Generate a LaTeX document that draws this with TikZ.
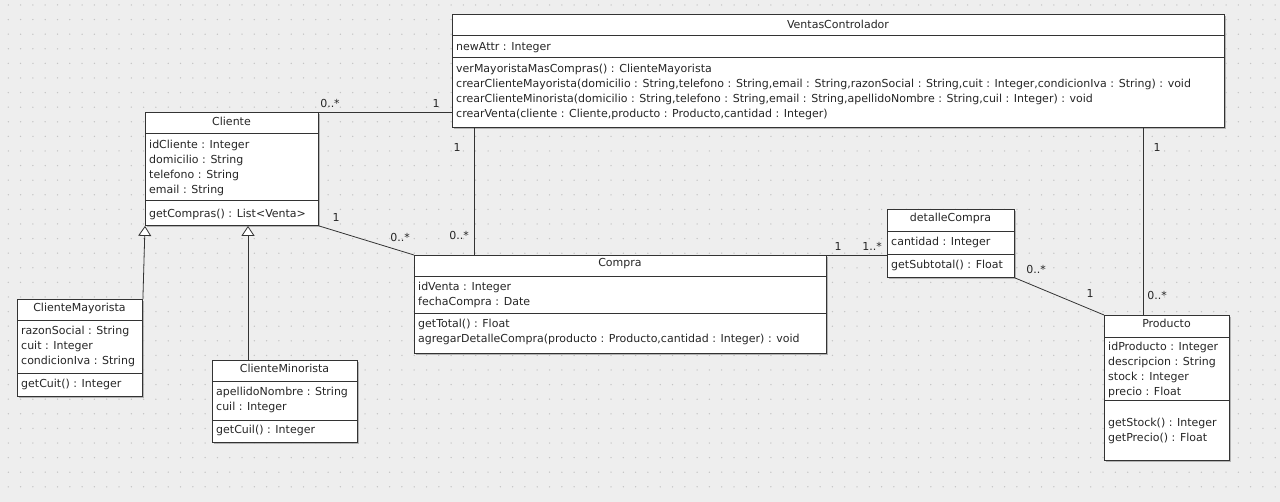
\documentclass[tikz,border=0pt]{standalone}
\usepackage{fontspec}
\setmainfont{DejaVu Sans}
\usepackage{tikz}
\usetikzlibrary{arrows.meta,shadows}

\definecolor{bggray}{HTML}{EEEEEE}
\definecolor{dotgray}{HTML}{C4C4C4}
\definecolor{linegray}{HTML}{333333}

\begin{document}
\begin{tikzpicture}[x=1pt, y=-1pt,
    cls/.style={draw=linegray, line width=0.9pt, fill=white, anchor=north west, inner sep=0pt,
      drop shadow={shadow xshift=1.2pt, shadow yshift=-1.2pt, fill=black!35, opacity=0.8}},
    title/.style={font=\fontsize{11}{15}\selectfont, inner sep=0pt, text=black!85},
    members/.style={font=\fontsize{11}{15}\selectfont, inner sep=0pt, anchor=north west, align=left, text=black!85},
    mult/.style={font=\fontsize{11}{15}\selectfont, inner sep=0pt, text=black!85},
    assoc/.style={draw=linegray, line width=0.8pt},
    gen/.style={draw=linegray, line width=0.8pt, -{Triangle[open, length=10pt, width=13pt, fill=white]}}]

        % Background and grid
        \useasboundingbox (0,0) rectangle (1280,502);
        \fill[bggray] (0,0) rectangle (1280,502);
        \foreach \i in {0,...,103}
          \foreach \j in {0,...,33}
            \fill[dotgray] (8.3+12.3*\i, 5+14.6*\j) circle (0.75);

        % Draw classes
        \node[cls, minimum width=772, minimum height=113] (vc) at (452,14) {};
        \node[cls, minimum width=173, minimum height=113] (cliente) at (145,112) {};
        \node[cls, minimum width=125, minimum height=97] (cmay) at (17,299) {};
        \node[cls, minimum width=145, minimum height=82] (cmin) at (212,360) {};
        \node[cls, minimum width=412, minimum height=98] (compra) at (414,255) {};
        \node[cls, minimum width=127, minimum height=68] (detalle) at (887,209) {};
        \node[cls, minimum width=125, minimum height=145] (producto) at (1104,315) {};

        % Compartments
        \draw[assoc] (452,35) -- (1224,35) (452,57) -- (1224,57);
        \draw[assoc] (145,133) -- (318,133) (145,200) -- (318,200);
        \draw[assoc] (17,320) -- (142,320) (17,373) -- (142,373);
        \draw[assoc] (212,381) -- (357,381) (212,420) -- (357,420);
        \draw[assoc] (414,276) -- (826,276) (414,313) -- (826,313);
        \draw[assoc] (887,231) -- (1014,231) (887,254) -- (1014,254);
        \draw[assoc] (1104,337) -- (1229,337) (1104,400) -- (1229,400);

        % Texts
        \node[title] (vc-t) at (838,24) {VentasControlador};
        \node[members] (vc-a) at (456,42) {newAttr : Integer};
        \node[members] (vc-m) at (456,64) {verMayoristaMasCompras() : ClienteMayorista\\
          crearClienteMayorista(domicilio : String,telefono : String,email : String,razonSocial : String,cuit : Integer,condicionIva : String) : void\\
          crearClienteMinorista(domicilio : String,telefono : String,email : String,apellidoNombre : String,cuil : Integer) : void\\
          crearVenta(cliente : Cliente,producto : Producto,cantidad : Integer)};

        \node[title] (cliente-t) at (231.5,121) {Cliente};
        \node[members] (cliente-a) at (149,140) {idCliente : Integer\\ domicilio : String\\ telefono : String\\ email : String};
        \node[members] (cliente-m) at (149,209) {getCompras() : List<Venta>};

        \node[title] (cmay-t) at (79.5,308) {ClienteMayorista};
        \node[members] (cmay-a) at (21,326) {razonSocial : String\\ cuit : Integer\\ condicionIva : String};
        \node[members] (cmay-m) at (21,379) {getCuit() : Integer};

        \node[title] (cmin-t) at (284.5,368) {ClienteMinorista};
        \node[members] (cmin-a) at (216,387) {apellidoNombre : String\\ cuil : Integer};
        \node[members] (cmin-m) at (216,425) {getCuil() : Integer};

        \node[title] (compra-t) at (620,264) {Compra};
        \node[members] (compra-a) at (418,282) {idVenta : Integer\\ fechaCompra : Date};
        \node[members] (compra-m) at (418,319) {getTotal() : Float\\ agregarDetalleCompra(producto : Producto,cantidad : Integer) : void};

        \node[title] (detalle-t) at (950.5,218) {detalleCompra};
        \node[members] (detalle-a) at (891,237) {cantidad : Integer};
        \node[members] (detalle-m) at (891,260) {getSubtotal() : Float};

        \node[title] (producto-t) at (1166.5,323) {Producto};
        \node[members] (producto-a) at (1108,342) {idProducto : Integer\\ descripcion : String\\ stock : Integer\\ precio : Float};
        \node[members] (producto-m) at (1108,418) {getStock() : Integer\\ getPrecio() : Float};

        % Draw associations
        \draw[assoc] (cliente.north east) -- (cliente.north east -| vc.west);
        \draw[assoc] ([xshift=22]vc.south west) -- ([xshift=22]vc.south west |- compra.north);
        \draw[assoc] (cliente.south east) -- (compra.north west);
        \draw[assoc] (compra.north east) -- (compra.north east -| detalle.west);
        \draw[assoc] (detalle.south east) -- (producto.north west);
        \draw[assoc] ([xshift=-82]vc.south east) -- ([xshift=-82]vc.south east |- producto.north);

        % Generalizations
        \draw[gen] (cmay.north east) -- (cliente.south west);
        \draw[gen] ([xshift=36]cmin.north west) -- ([xshift=36]cmin.north west |- cliente.south);

        % Multiplicities
        \node[mult] (m1) at (330,103) {0..*};
        \node[mult] (m2) at (436,103) {1};
        \node[mult] (m3) at (457,147) {1};
        \node[mult] (m4) at (459,235) {0..*};
        \node[mult] (m5) at (336,217) {1};
        \node[mult] (m6) at (400,237) {0..*};
        \node[mult] (m7) at (838,246) {1};
        \node[mult] (m8) at (872,246) {1..*};
        \node[mult] (m9) at (1036,269) {0..*};
        \node[mult] (m10) at (1090,293) {1};
        \node[mult] (m11) at (1157,147) {1};
        \node[mult] (m12) at (1157,295) {0..*};
\end{tikzpicture}
\end{document}
